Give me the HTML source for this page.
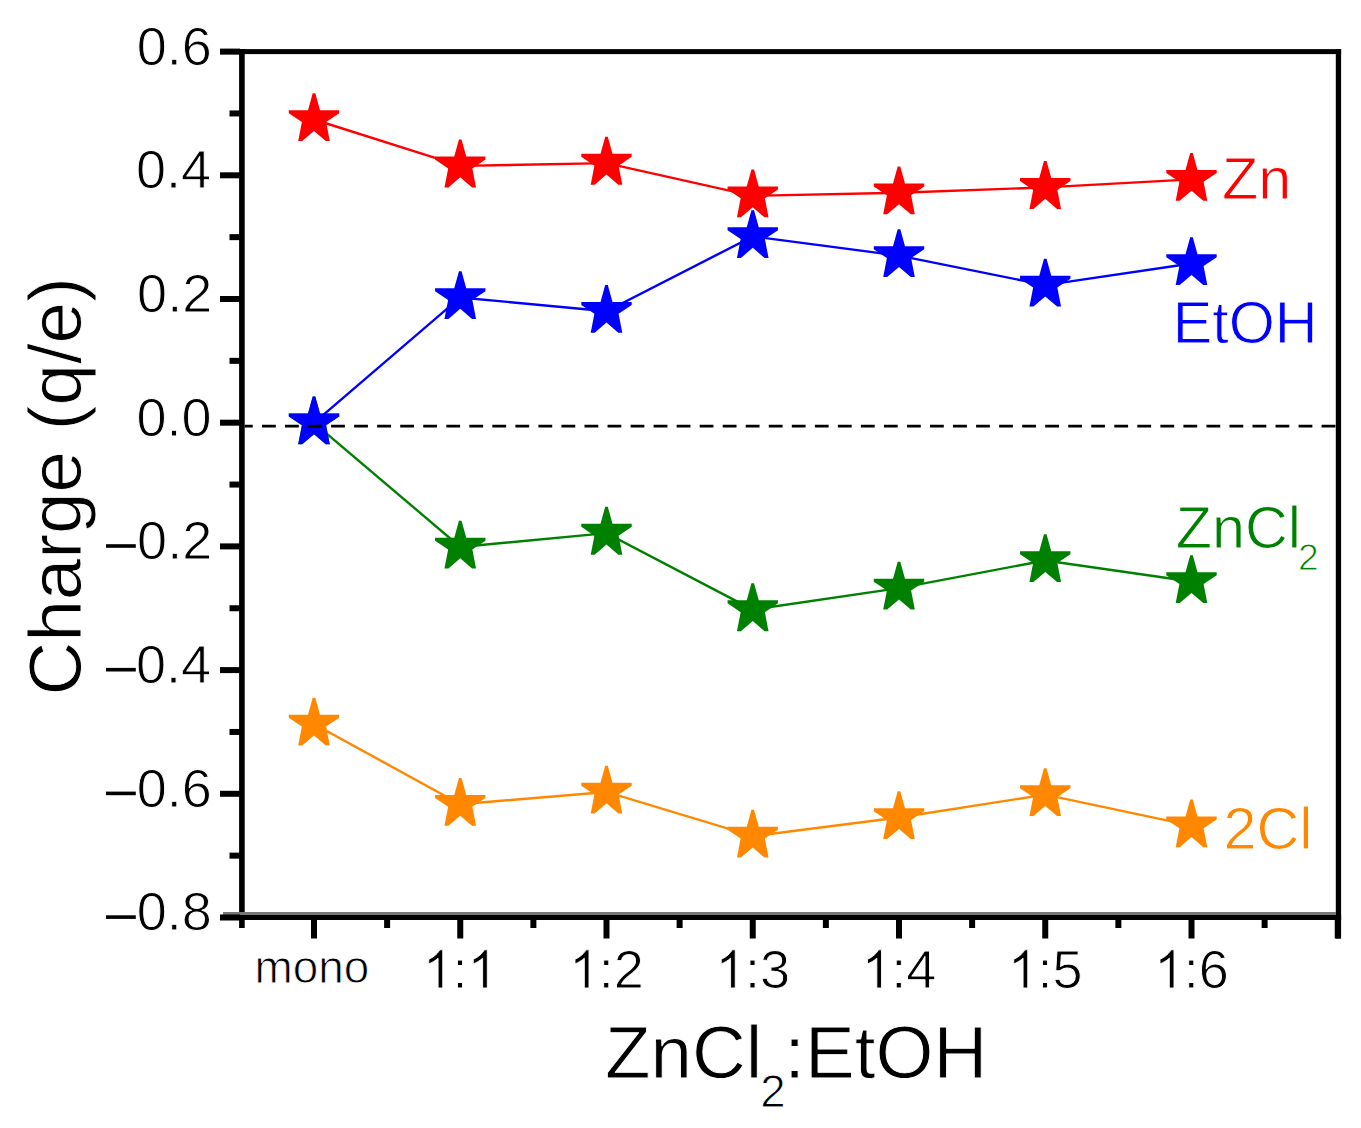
<!DOCTYPE html>
<html><head><meta charset="utf-8"><style>
html,body{margin:0;padding:0;background:#fff;width:1361px;height:1128px;overflow:hidden}
svg{display:block}
text{font-family:"Liberation Sans",sans-serif;font-kerning:none}
.t text,.t path{stroke:#fff;stroke-width:0.9px;stroke-linejoin:round}
</style></head><body>
<svg width="1361" height="1128" viewBox="0 0 1361 1128"><rect width="100%" height="100%" fill="#fff"/><polyline points="314.00,724.00 460.25,804.25 606.50,791.95 752.75,836.10 899.00,817.55 1045.25,794.60 1191.50,825.70" fill="none" stroke="#ff8800" stroke-width="2.4"/><polygon points="312.70,697.70 315.30,697.70 320.00,714.70 339.20,714.70 339.20,717.70 326.10,726.50 329.80,745.50 325.80,745.50 314.00,735.40 302.20,745.50 298.20,745.50 301.90,726.50 288.80,717.70 288.80,714.70 308.00,714.70" fill="#ff8800"/><polygon points="458.95,777.95 461.55,777.95 466.25,794.95 485.45,794.95 485.45,797.95 472.35,806.75 476.05,825.75 472.05,825.75 460.25,815.65 448.45,825.75 444.45,825.75 448.15,806.75 435.05,797.95 435.05,794.95 454.25,794.95" fill="#ff8800"/><polygon points="605.20,765.65 607.80,765.65 612.50,782.65 631.70,782.65 631.70,785.65 618.60,794.45 622.30,813.45 618.30,813.45 606.50,803.35 594.70,813.45 590.70,813.45 594.40,794.45 581.30,785.65 581.30,782.65 600.50,782.65" fill="#ff8800"/><polygon points="751.45,809.80 754.05,809.80 758.75,826.80 777.95,826.80 777.95,829.80 764.85,838.60 768.55,857.60 764.55,857.60 752.75,847.50 740.95,857.60 736.95,857.60 740.65,838.60 727.55,829.80 727.55,826.80 746.75,826.80" fill="#ff8800"/><polygon points="897.70,791.25 900.30,791.25 905.00,808.25 924.20,808.25 924.20,811.25 911.10,820.05 914.80,839.05 910.80,839.05 899.00,828.95 887.20,839.05 883.20,839.05 886.90,820.05 873.80,811.25 873.80,808.25 893.00,808.25" fill="#ff8800"/><polygon points="1043.95,768.30 1046.55,768.30 1051.25,785.30 1070.45,785.30 1070.45,788.30 1057.35,797.10 1061.05,816.10 1057.05,816.10 1045.25,806.00 1033.45,816.10 1029.45,816.10 1033.15,797.10 1020.05,788.30 1020.05,785.30 1039.25,785.30" fill="#ff8800"/><polygon points="1190.20,799.40 1192.80,799.40 1197.50,816.40 1216.70,816.40 1216.70,819.40 1203.60,828.20 1207.30,847.20 1203.30,847.20 1191.50,837.10 1179.70,847.20 1175.70,847.20 1179.40,828.20 1166.30,819.40 1166.30,816.40 1185.50,816.40" fill="#ff8800"/><polyline points="314.00,422.80 460.25,546.95 606.50,533.15 752.75,609.65 899.00,588.10 1045.25,560.50 1191.50,581.50" fill="none" stroke="#008000" stroke-width="2.4"/><polygon points="312.70,396.50 315.30,396.50 320.00,413.50 339.20,413.50 339.20,416.50 326.10,425.30 329.80,444.30 325.80,444.30 314.00,434.20 302.20,444.30 298.20,444.30 301.90,425.30 288.80,416.50 288.80,413.50 308.00,413.50" fill="#008000"/><polygon points="458.95,520.65 461.55,520.65 466.25,537.65 485.45,537.65 485.45,540.65 472.35,549.45 476.05,568.45 472.05,568.45 460.25,558.35 448.45,568.45 444.45,568.45 448.15,549.45 435.05,540.65 435.05,537.65 454.25,537.65" fill="#008000"/><polygon points="605.20,506.85 607.80,506.85 612.50,523.85 631.70,523.85 631.70,526.85 618.60,535.65 622.30,554.65 618.30,554.65 606.50,544.55 594.70,554.65 590.70,554.65 594.40,535.65 581.30,526.85 581.30,523.85 600.50,523.85" fill="#008000"/><polygon points="751.45,583.35 754.05,583.35 758.75,600.35 777.95,600.35 777.95,603.35 764.85,612.15 768.55,631.15 764.55,631.15 752.75,621.05 740.95,631.15 736.95,631.15 740.65,612.15 727.55,603.35 727.55,600.35 746.75,600.35" fill="#008000"/><polygon points="897.70,561.80 900.30,561.80 905.00,578.80 924.20,578.80 924.20,581.80 911.10,590.60 914.80,609.60 910.80,609.60 899.00,599.50 887.20,609.60 883.20,609.60 886.90,590.60 873.80,581.80 873.80,578.80 893.00,578.80" fill="#008000"/><polygon points="1043.95,534.20 1046.55,534.20 1051.25,551.20 1070.45,551.20 1070.45,554.20 1057.35,563.00 1061.05,582.00 1057.05,582.00 1045.25,571.90 1033.45,582.00 1029.45,582.00 1033.15,563.00 1020.05,554.20 1020.05,551.20 1039.25,551.20" fill="#008000"/><polygon points="1190.20,555.20 1192.80,555.20 1197.50,572.20 1216.70,572.20 1216.70,575.20 1203.60,584.00 1207.30,603.00 1203.30,603.00 1191.50,592.90 1179.70,603.00 1175.70,603.00 1179.40,584.00 1166.30,575.20 1166.30,572.20 1185.50,572.20" fill="#008000"/><polyline points="314.00,422.80 460.25,297.45 606.50,311.20 752.75,236.45 899.00,255.60 1045.25,285.10 1191.50,263.50" fill="none" stroke="#0000ff" stroke-width="2.4"/><polygon points="312.70,396.50 315.30,396.50 320.00,413.50 339.20,413.50 339.20,416.50 326.10,425.30 329.80,444.30 325.80,444.30 314.00,434.20 302.20,444.30 298.20,444.30 301.90,425.30 288.80,416.50 288.80,413.50 308.00,413.50" fill="#0000ff"/><polygon points="458.95,271.15 461.55,271.15 466.25,288.15 485.45,288.15 485.45,291.15 472.35,299.95 476.05,318.95 472.05,318.95 460.25,308.85 448.45,318.95 444.45,318.95 448.15,299.95 435.05,291.15 435.05,288.15 454.25,288.15" fill="#0000ff"/><polygon points="605.20,284.90 607.80,284.90 612.50,301.90 631.70,301.90 631.70,304.90 618.60,313.70 622.30,332.70 618.30,332.70 606.50,322.60 594.70,332.70 590.70,332.70 594.40,313.70 581.30,304.90 581.30,301.90 600.50,301.90" fill="#0000ff"/><polygon points="751.45,210.15 754.05,210.15 758.75,227.15 777.95,227.15 777.95,230.15 764.85,238.95 768.55,257.95 764.55,257.95 752.75,247.85 740.95,257.95 736.95,257.95 740.65,238.95 727.55,230.15 727.55,227.15 746.75,227.15" fill="#0000ff"/><polygon points="897.70,229.30 900.30,229.30 905.00,246.30 924.20,246.30 924.20,249.30 911.10,258.10 914.80,277.10 910.80,277.10 899.00,267.00 887.20,277.10 883.20,277.10 886.90,258.10 873.80,249.30 873.80,246.30 893.00,246.30" fill="#0000ff"/><polygon points="1043.95,258.80 1046.55,258.80 1051.25,275.80 1070.45,275.80 1070.45,278.80 1057.35,287.60 1061.05,306.60 1057.05,306.60 1045.25,296.50 1033.45,306.60 1029.45,306.60 1033.15,287.60 1020.05,278.80 1020.05,275.80 1039.25,275.80" fill="#0000ff"/><polygon points="1190.20,237.20 1192.80,237.20 1197.50,254.20 1216.70,254.20 1216.70,257.20 1203.60,266.00 1207.30,285.00 1203.30,285.00 1191.50,274.90 1179.70,285.00 1175.70,285.00 1179.40,266.00 1166.30,257.20 1166.30,254.20 1185.50,254.20" fill="#0000ff"/><polyline points="314.00,119.50 460.25,165.90 606.50,163.15 752.75,195.85 899.00,192.75 1045.25,187.40 1191.50,179.35" fill="none" stroke="#ff0000" stroke-width="2.4"/><polygon points="312.70,93.20 315.30,93.20 320.00,110.20 339.20,110.20 339.20,113.20 326.10,122.00 329.80,141.00 325.80,141.00 314.00,130.90 302.20,141.00 298.20,141.00 301.90,122.00 288.80,113.20 288.80,110.20 308.00,110.20" fill="#ff0000"/><polygon points="458.95,139.60 461.55,139.60 466.25,156.60 485.45,156.60 485.45,159.60 472.35,168.40 476.05,187.40 472.05,187.40 460.25,177.30 448.45,187.40 444.45,187.40 448.15,168.40 435.05,159.60 435.05,156.60 454.25,156.60" fill="#ff0000"/><polygon points="605.20,136.85 607.80,136.85 612.50,153.85 631.70,153.85 631.70,156.85 618.60,165.65 622.30,184.65 618.30,184.65 606.50,174.55 594.70,184.65 590.70,184.65 594.40,165.65 581.30,156.85 581.30,153.85 600.50,153.85" fill="#ff0000"/><polygon points="751.45,169.55 754.05,169.55 758.75,186.55 777.95,186.55 777.95,189.55 764.85,198.35 768.55,217.35 764.55,217.35 752.75,207.25 740.95,217.35 736.95,217.35 740.65,198.35 727.55,189.55 727.55,186.55 746.75,186.55" fill="#ff0000"/><polygon points="897.70,166.45 900.30,166.45 905.00,183.45 924.20,183.45 924.20,186.45 911.10,195.25 914.80,214.25 910.80,214.25 899.00,204.15 887.20,214.25 883.20,214.25 886.90,195.25 873.80,186.45 873.80,183.45 893.00,183.45" fill="#ff0000"/><polygon points="1043.95,161.10 1046.55,161.10 1051.25,178.10 1070.45,178.10 1070.45,181.10 1057.35,189.90 1061.05,208.90 1057.05,208.90 1045.25,198.80 1033.45,208.90 1029.45,208.90 1033.15,189.90 1020.05,181.10 1020.05,178.10 1039.25,178.10" fill="#ff0000"/><polygon points="1190.20,153.05 1192.80,153.05 1197.50,170.05 1216.70,170.05 1216.70,173.05 1203.60,181.85 1207.30,200.85 1203.30,200.85 1191.50,190.75 1179.70,200.85 1175.70,200.85 1179.40,181.85 1166.30,173.05 1166.30,170.05 1185.50,170.05" fill="#ff0000"/><line x1="244.7" y1="426.1" x2="1335.8" y2="426.1" stroke="#000" stroke-width="2.9" stroke-dasharray="13.8 9.235" stroke-dashoffset="-17.3"/><rect x="239.1" y="49.1" width="5.6" height="878.9" fill="#000"/><rect x="220" y="49.1" width="1121.1" height="5" fill="#000"/><rect x="1335.8" y="49.1" width="5.3" height="889.4" fill="#000"/><rect x="223" y="912" width="1113" height="3" fill="#777"/><rect x="220" y="915" width="1121.1" height="5" fill="#000"/><rect x="220" y="48.60" width="20" height="6.0" fill="#000"/><rect x="220" y="172.30" width="20" height="6.0" fill="#000"/><rect x="220" y="296.00" width="20" height="6.0" fill="#000"/><rect x="220" y="419.70" width="20" height="6.0" fill="#000"/><rect x="220" y="543.40" width="20" height="6.0" fill="#000"/><rect x="220" y="667.10" width="20" height="6.0" fill="#000"/><rect x="220" y="790.80" width="20" height="6.0" fill="#000"/><rect x="220" y="914.50" width="20" height="6.0" fill="#000"/><rect x="229.5" y="110.45" width="11" height="6.0" fill="#000"/><rect x="229.5" y="234.15" width="11" height="6.0" fill="#000"/><rect x="229.5" y="357.85" width="11" height="6.0" fill="#000"/><rect x="229.5" y="481.55" width="11" height="6.0" fill="#000"/><rect x="229.5" y="605.25" width="11" height="6.0" fill="#000"/><rect x="229.5" y="728.95" width="11" height="6.0" fill="#000"/><rect x="229.5" y="852.65" width="11" height="6.0" fill="#000"/><rect x="311.00" y="919" width="6.0" height="19.5" fill="#000"/><rect x="457.25" y="919" width="6.0" height="19.5" fill="#000"/><rect x="603.50" y="919" width="6.0" height="19.5" fill="#000"/><rect x="749.75" y="919" width="6.0" height="19.5" fill="#000"/><rect x="896.00" y="919" width="6.0" height="19.5" fill="#000"/><rect x="1042.25" y="919" width="6.0" height="19.5" fill="#000"/><rect x="1188.50" y="919" width="6.0" height="19.5" fill="#000"/><rect x="1334.75" y="919" width="6.0" height="19.5" fill="#000"/><rect x="384.12" y="919" width="6.0" height="9" fill="#000"/><rect x="530.38" y="919" width="6.0" height="9" fill="#000"/><rect x="676.62" y="919" width="6.0" height="9" fill="#000"/><rect x="822.88" y="919" width="6.0" height="9" fill="#000"/><rect x="969.12" y="919" width="6.0" height="9" fill="#000"/><rect x="1115.38" y="919" width="6.0" height="9" fill="#000"/><rect x="1261.62" y="919" width="6.0" height="9" fill="#000"/><g class="t" font-family="Liberation Sans" style="font-kerning:none"><text x="136.76" y="64.50" font-size="54.0" fill="#000">0.6</text><text x="135.96" y="188.20" font-size="54.0" fill="#000">0.4</text><text x="137.10" y="311.90" font-size="54.0" fill="#000">0.2</text><text x="136.49" y="435.60" font-size="54.0" fill="#000">0.0</text><text x="137.10" y="559.30" font-size="54.0" fill="#000">0.2</text><rect x="106" y="544.20" width="29.8" height="3.6" fill="#000"/><text x="135.96" y="683.00" font-size="54.0" fill="#000">0.4</text><rect x="106" y="667.90" width="29.8" height="3.6" fill="#000"/><text x="136.76" y="806.70" font-size="54.0" fill="#000">0.6</text><rect x="106" y="791.60" width="29.8" height="3.6" fill="#000"/><text x="136.73" y="930.40" font-size="54.0" fill="#000">0.8</text><rect x="106" y="915.30" width="29.8" height="3.6" fill="#000"/><path d="M763 0L583 0L583 1147C540 1106 483 1064 413 1023C343 982 280 951 223 930L223 1104C324 1151 412 1208 487 1275C562 1342 615 1407 646 1472L763 1472Z" transform="translate(422.95,988) scale(0.02595,-0.02595)" fill="#000" vector-effect="non-scaling-stroke"/><text x="452.51" y="988" font-size="54.0">:</text><path d="M763 0L583 0L583 1147C540 1106 483 1064 413 1023C343 982 280 951 223 930L223 1104C324 1151 412 1208 487 1275C562 1342 615 1407 646 1472L763 1472Z" transform="translate(467.51,988) scale(0.02595,-0.02595)" fill="#000" vector-effect="non-scaling-stroke"/><path d="M763 0L583 0L583 1147C540 1106 483 1064 413 1023C343 982 280 951 223 930L223 1104C324 1151 412 1208 487 1275C562 1342 615 1407 646 1472L763 1472Z" transform="translate(569.20,988) scale(0.02595,-0.02595)" fill="#000" vector-effect="non-scaling-stroke"/><text x="598.76" y="988" font-size="54.0">:2</text><path d="M763 0L583 0L583 1147C540 1106 483 1064 413 1023C343 982 280 951 223 930L223 1104C324 1151 412 1208 487 1275C562 1342 615 1407 646 1472L763 1472Z" transform="translate(715.45,988) scale(0.02595,-0.02595)" fill="#000" vector-effect="non-scaling-stroke"/><text x="745.01" y="988" font-size="54.0">:3</text><path d="M763 0L583 0L583 1147C540 1106 483 1064 413 1023C343 982 280 951 223 930L223 1104C324 1151 412 1208 487 1275C562 1342 615 1407 646 1472L763 1472Z" transform="translate(861.70,988) scale(0.02595,-0.02595)" fill="#000" vector-effect="non-scaling-stroke"/><text x="891.26" y="988" font-size="54.0">:4</text><path d="M763 0L583 0L583 1147C540 1106 483 1064 413 1023C343 982 280 951 223 930L223 1104C324 1151 412 1208 487 1275C562 1342 615 1407 646 1472L763 1472Z" transform="translate(1007.95,988) scale(0.02595,-0.02595)" fill="#000" vector-effect="non-scaling-stroke"/><text x="1037.51" y="988" font-size="54.0">:5</text><path d="M763 0L583 0L583 1147C540 1106 483 1064 413 1023C343 982 280 951 223 930L223 1104C324 1151 412 1208 487 1275C562 1342 615 1407 646 1472L763 1472Z" transform="translate(1154.20,988) scale(0.02595,-0.02595)" fill="#000" vector-effect="non-scaling-stroke"/><text x="1183.76" y="988" font-size="54.0">:6</text><text x="254.60" y="982.80" font-size="45.9" fill="#000">mono</text><text x="604.99" y="1077.80" font-size="74.5" fill="#000">ZnCl</text><text x="760.26" y="1107.40" font-size="45.6" fill="#000">2</text><text x="784.35" y="1077.90" font-size="74.5" fill="#000">:EtOH</text><text transform="translate(81.1,695.38) rotate(-90)" font-size="74.5">Charge (q/e)</text><text x="1222.07" y="198.75" font-size="59.3" fill="#ff0000">Zn</text><text x="1172.69" y="343.30" font-size="59.3" fill="#0000ff">EtOH</text><text x="1175.77" y="547.50" font-size="59.3" fill="#008000">ZnCl</text><text x="1297.88" y="570.30" font-size="37.2" fill="#008000">2</text><text x="1223.57" y="849.40" font-size="59.3" fill="#ff8800">2Cl</text></g></svg>
</body></html>
